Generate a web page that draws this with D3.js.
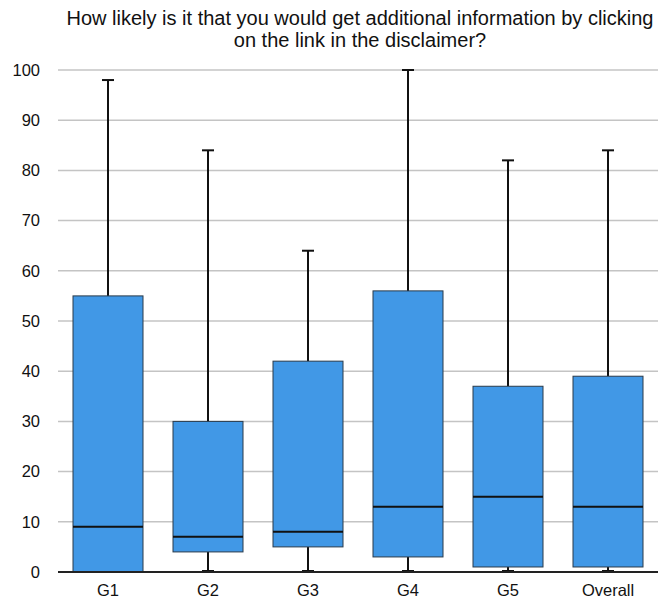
<!DOCTYPE html>
<html lang="en">
<head>
    <meta charset="UTF-8">
    <title>Box Plot</title>
    <style>
        body {
            margin: 0;
            padding: 0;
            background-color: #fff;
            font-family: "Liberation Sans", Arial, sans-serif;
        }
    </style>
</head>
<body>
    <div id="chart"></div>
    <script src="https://d3js.org/d3.v7.min.js"></script>
    <script>
        // Data
        const groups = ['G1', 'G2', 'G3', 'G4', 'G5', 'Overall'];
        const minValues = [0, 0, 0, 0, 0, 0];
        const q1Values = [0, 4, 5, 3, 1, 1];
        const medianValues = [9, 7, 8, 13, 15, 13];
        const q3Values = [55, 30, 42, 56, 37, 39];
        const maxValues = [98, 84, 64, 100, 82, 84];
        const yTicks = [0, 10, 20, 30, 40, 50, 60, 70, 80, 90, 100];
        const titleLines = [
            'How likely is it that you would get additional information by clicking',
            'on the link in the disclaimer?'
        ];

        const width = 667;
        const height = 602;
        const margin = { top: 70, right: 9, bottom: 30, left: 58 };

        const svg = d3.select('#chart')
            .append('svg')
            .attr('width', width)
            .attr('height', height);

        const x = d3.scaleBand()
            .domain(groups)
            .range([margin.left, width - margin.right])
            .paddingInner(0.3)
            .paddingOuter(0.15);

        const y = d3.scaleLinear()
            .domain([0, 100])
            .range([height - margin.bottom, margin.top]);

        // title
        svg.append('g')
            .selectAll('text')
            .data(titleLines)
            .enter().append('text')
            .attr('x', 360)
            .attr('y', (d, i) => 25 + i * 22)
            .attr('text-anchor', 'middle')
            .attr('font-size', '20px')
            .attr('fill', '#111')
            .text(d => d);

        // gridlines
        svg.append('g')
            .selectAll('line')
            .data(yTicks.filter(t => t > 0))
            .enter().append('line')
            .attr('x1', margin.left)
            .attr('x2', width - margin.right)
            .attr('y1', d => y(d))
            .attr('y2', d => y(d))
            .attr('stroke', '#c4c4c4')
            .attr('stroke-width', 1.5);

        // y axis labels
        const yAxis = d3.axisLeft(y).tickValues(yTicks).tickSize(0).tickPadding(18);
        const yg = svg.append('g')
            .attr('transform', `translate(${margin.left},0)`)
            .call(yAxis);
        yg.select('.domain').remove();
        yg.selectAll('text')
            .attr('font-size', '16.5px')
            .attr('font-family', '"Liberation Sans", Arial, sans-serif')
            .attr('fill', '#111');

        const boxes = groups.map((g, i) => ({
            name: g,
            min: minValues[i],
            q1: q1Values[i],
            median: medianValues[i],
            q3: q3Values[i],
            max: maxValues[i]
        }));

        const capW = 12;
        const box = svg.append('g')
            .selectAll('g')
            .data(boxes)
            .enter().append('g')
            .attr('transform', d => `translate(${x(d.name)},0)`);

        // whiskers
        box.append('line')
            .attr('x1', x.bandwidth() / 2)
            .attr('x2', x.bandwidth() / 2)
            .attr('y1', d => y(d.max))
            .attr('y2', d => y(d.q3))
            .attr('stroke', '#111')
            .attr('stroke-width', 2);
        box.append('line')
            .attr('x1', x.bandwidth() / 2)
            .attr('x2', x.bandwidth() / 2)
            .attr('y1', d => y(d.q1))
            .attr('y2', d => y(d.min))
            .attr('stroke', '#111')
            .attr('stroke-width', 2);
        // caps
        box.append('line')
            .attr('x1', x.bandwidth() / 2 - capW / 2)
            .attr('x2', x.bandwidth() / 2 + capW / 2)
            .attr('y1', d => y(d.max))
            .attr('y2', d => y(d.max))
            .attr('stroke', '#111')
            .attr('stroke-width', 2);
        box.append('line')
            .attr('x1', x.bandwidth() / 2 - capW / 2)
            .attr('x2', x.bandwidth() / 2 + capW / 2)
            .attr('y1', d => y(d.min) - 1)
            .attr('y2', d => y(d.min) - 1)
            .attr('stroke', '#111')
            .attr('stroke-width', 2);

        // boxes
        box.append('rect')
            .attr('x', 0)
            .attr('width', x.bandwidth())
            .attr('y', d => y(d.q3))
            .attr('height', d => y(d.q1) - y(d.q3))
            .attr('fill', '#4198e6')
            .attr('stroke', '#2a3a4a')
            .attr('stroke-width', 1);

        // medians
        box.append('line')
            .attr('x1', 0)
            .attr('x2', x.bandwidth())
            .attr('y1', d => y(d.median))
            .attr('y2', d => y(d.median))
            .attr('stroke', '#111')
            .attr('stroke-width', 2);

        // x axis
        svg.append('line')
            .attr('x1', margin.left)
            .attr('x2', width - margin.right)
            .attr('y1', y(0))
            .attr('y2', y(0))
            .attr('stroke', '#222')
            .attr('stroke-width', 2);

        const xAxis = d3.axisBottom(x).tickSize(0).tickPadding(12);
        const xg = svg.append('g')
            .attr('transform', `translate(0,${y(0)})`)
            .call(xAxis);
        xg.select('.domain').remove();
        xg.selectAll('text')
            .attr('font-size', '16.5px')
            .attr('font-family', '"Liberation Sans", Arial, sans-serif')
            .attr('fill', '#111');
    </script>
</body>
</html>
